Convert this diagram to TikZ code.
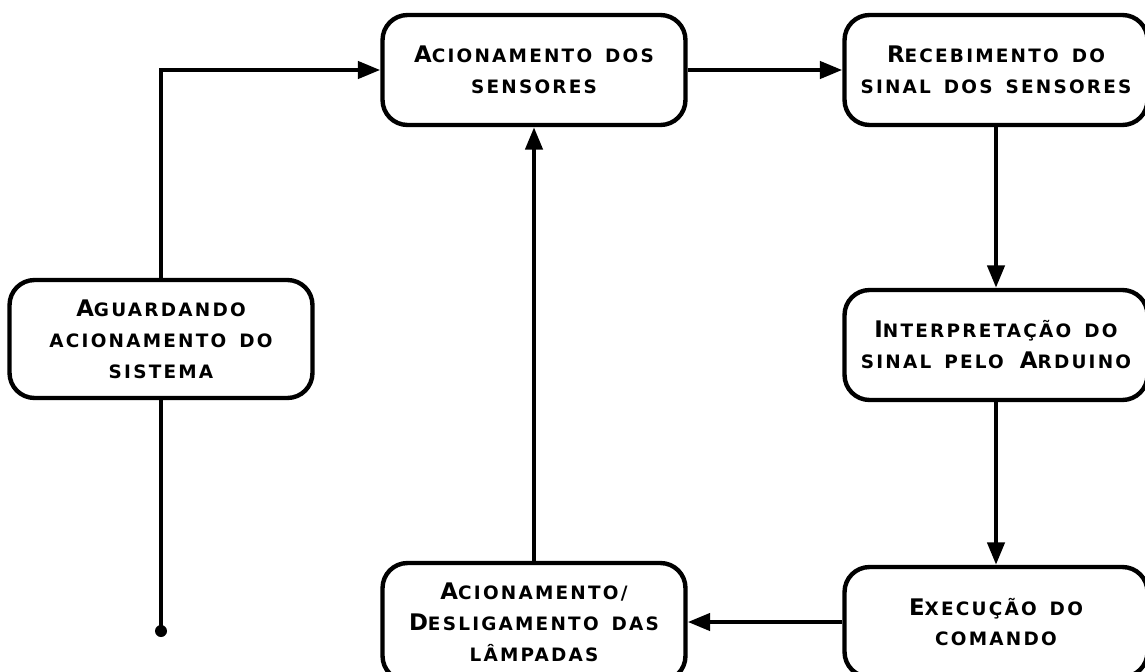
\documentclass[tikz,border=0pt]{standalone}
\usepackage{fontspec}
\newfontfamily\etapafont[UprightFont=* Bold,LetterSpace=12,WordSpace=1.5]{DejaVu Sans}
\newcommand\kc[1]{{\fontsize{10.5}{17.6}\selectfont\MakeUppercase{#1}}}
\usetikzlibrary{arrows.meta}
\begin{document}
\begin{tikzpicture}[x=0.02cm,y=-0.02cm,
    etapa/.style={draw,line width=2.5pt,rounded corners=0.5cm,minimum width=6.06cm,
        minimum height=2.2cm,inner sep=0pt,align=center,
        font=\etapafont\fontsize{13}{17.6}\selectfont},
    seta/.style={line width=2.5pt,-{Triangle[length=0.45cm,width=0.34cm]}}]
    \useasboundingbox (0,0) rectangle (1145,672);
    %% steps
    \node[etapa,minimum height=2.36cm] (aguarda) at (161,339) {A\kc{guardando}\\\kc{acionamento do}\\\kc{sistema}};
    \node[etapa] (sensores) at (534,70) {A\kc{cionamento dos}\\\kc{sensores}};
    \node[etapa] (recebe) at (996,70) {R\kc{ecebimento do}\\\kc{sinal dos sensores}};
    \node[etapa] (interpreta) at (996,345) {I\kc{nterpretação do}\\\kc{sinal pelo} A\kc{rduino}};
    \node[etapa] (executa) at (996,622) {E\kc{xecução do}\\\kc{comando}};
    \node[etapa,minimum height=2.36cm] (lampadas) at (534,622) {A\kc{cionamento/}\\D\kc{esligamento das}\\\kc{lâmpadas}};
    \coordinate (fim) at (161,631);
    %% connectors
    \draw[seta] (aguarda.north) |- (sensores.west);
    \draw[line width=2.5pt] (aguarda.south) -- (fim);
    \fill (fim) circle (0.12cm);
    \foreach \a/\b in {sensores/recebe,recebe/interpreta,interpreta/executa,executa/lampadas,lampadas/sensores}
        \draw[seta] (\a) -- (\b);
\end{tikzpicture}
\end{document}
